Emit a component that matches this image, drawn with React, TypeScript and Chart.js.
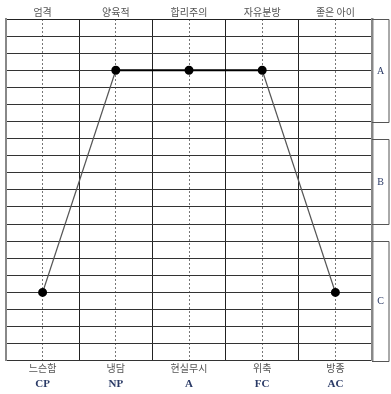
import React, { useEffect, useRef } from "react";
import { Chart, registerables } from "chart.js";

Chart.register(...registerables);

const topLabels = ["엄격", "양육적", "합리주의", "자유분방", "좋은 아이"];
const bottomLabels = ["느슨함", "냉담", "현실무시", "위축", "방종"];
const codeLabels = ["CP", "NP", "A", "FC", "AC"];
const values = [4, 17, 17, 17, 4];
const bracketLabels = ["A", "B", "C"];
const bracketTop = [20, 13, 7];
const bracketBottom = [14, 8, 0];

const KR = '"Noto Sans CJK KR", "Noto Sans", sans-serif';

const bracketPlugin = {
  id: "brackets",
  afterDraw(chart: any) {
    const { ctx, chartArea } = chart;
    const y = chart.scales.y;
    const xR = chartArea.right + 17;
    ctx.save();
    ctx.strokeStyle = "#555";
    ctx.lineWidth = 1;
    bracketLabels.forEach((lab, i) => {
      const yt = Math.round(y.getPixelForValue(bracketTop[i])) + 0.5;
      const yb = Math.round(y.getPixelForValue(bracketBottom[i])) + 0.5;
      ctx.beginPath();
      ctx.moveTo(chartArea.right, yt);
      ctx.lineTo(xR, yt);
      ctx.lineTo(xR, yb);
      ctx.lineTo(chartArea.right, yb);
      ctx.stroke();
      ctx.fillStyle = "#2a3a66";
      ctx.font = "10px 'Liberation Serif', serif";
      ctx.textAlign = "center";
      ctx.textBaseline = "middle";
      ctx.fillText(lab, (chartArea.right + xR) / 2, (yt + yb) / 2);
    });
    ctx.restore();
  },
};

export default function App() {
  const ref = useRef<HTMLCanvasElement>(null);
  useEffect(() => {
    const chart = new Chart(ref.current as HTMLCanvasElement, {
      type: "line",
      data: {
        labels: topLabels,
        datasets: [
          {
            data: values,
            xAxisID: "x",
            yAxisID: "y",
            borderColor: "#000",
            borderWidth: 2,
            pointRadius: 3.5,
            pointBackgroundColor: "#000",
            pointBorderColor: "#000",
            segment: {
              borderColor: (c: any) => (c.p0.parsed.y === c.p1.parsed.y ? "#000" : "#555"),
              borderWidth: (c: any) => (c.p0.parsed.y === c.p1.parsed.y ? 2 : 1.2),
            },
          },
        ],
      },
      options: {
        animation: false,
        responsive: true,
        maintainAspectRatio: false,
        layout: { padding: { left: -2, right: 19, top: 5, bottom: 0 } },
        plugins: { legend: { display: false }, tooltip: { enabled: false } },
        scales: {
          x: {
            type: "category",
            position: "top",
            offset: true,
            labels: topLabels,
            grid: { offset: true, color: "#222", lineWidth: 1, drawTicks: false },
            border: { display: true, color: "#222", width: 1 },
            ticks: { padding: 1, color: "#555", font: { family: KR, size: 10 } },
          },
          xb: {
            type: "category",
            position: "bottom",
            offset: true,
            labels: bottomLabels,
            grid: { offset: false, color: "#777", lineWidth: 1, drawTicks: false },
            border: { display: false, dash: [2, 2] },
            ticks: { padding: 2, color: "#555", font: { family: KR, size: 10, lineHeight: 1 } },
          },
          xc: {
            type: "category",
            position: "bottom",
            offset: true,
            labels: codeLabels,
            grid: { display: false, drawTicks: false },
            border: { display: false },
            ticks: {
              padding: 3,
              color: "#2a3a66",
              font: { family: "'Liberation Serif', serif", size: 11, weight: "bold" },
            },
          },
          y: {
            type: "linear",
            min: 0,
            max: 20,
            ticks: { display: false, stepSize: 1 },
            grid: { color: "#333", lineWidth: 1, drawTicks: false },
            border: { display: true, color: "#888", width: 2 },
          },
          y2: {
            type: "linear",
            position: "right",
            min: 0,
            max: 20,
            ticks: { display: false },
            grid: { display: false, drawTicks: false },
            border: { display: true, color: "#888", width: 2.5 },
          },
        },
      },
      plugins: [bracketPlugin],
    });
    return () => chart.destroy();
  }, []);
  return (
    <div style={{ position: "fixed", left: 0, top: 0, width: 391, height: 394, background: "#fff" }}>
      <canvas ref={ref} />
    </div>
  );
}
